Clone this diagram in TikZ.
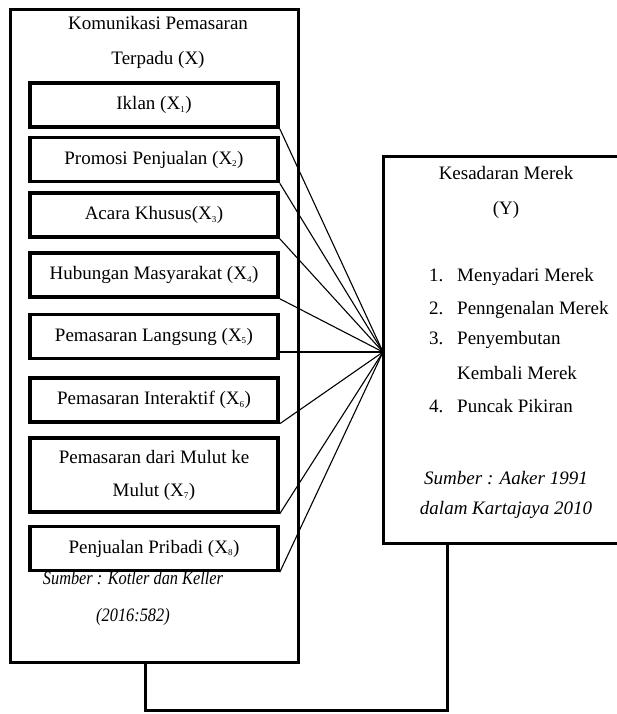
\documentclass[tikz,border=0pt]{standalone}
\usepackage{fontspec}
\setmainfont{Liberation Serif}
\usetikzlibrary{positioning}

\tikzset{
  kotak/.style={draw, line width=3.5pt, minimum width=248pt, minimum height=44pt,
    inner sep=0pt, align=center},
  bingkai/.style={draw, line width=3pt, inner sep=0pt},
  teks/.style={inner sep=0pt, text height=13pt, text depth=4pt},
  garis/.style={line width=1.1pt},
}
\newcommand{\subx}[1]{\textsubscript{\fontsize{9}{9}\selectfont #1}}

\begin{document}
\begin{tikzpicture}[x=1pt, y=-1pt, font=\fontsize{19}{33}\selectfont]
  \useasboundingbox (0,0) rectangle (617,714);

  % Variabel X
  \node[bingkai, minimum width=288pt, minimum height=652pt] (X) at (154,336) {};
  \node[teks] (judulA) at (158,25) {Komunikasi Pemasaran};
  \node[teks] (judulB) at (158,60) {Terpadu (X)};

  % Dimensi X
  \node[kotak] (x1) at (154,105)   {Iklan (X\subx{1})};
  \node[kotak] (x2) at (154,159.5) {Promosi Penjualan (X\subx{2})};
  \node[kotak] (x3) at (154,215)   {Acara Khusus(X\subx{3})};
  \node[kotak] (x4) at (154,275)   {Hubungan Masyarakat (X\subx{4})};
  \node[kotak] (x5) at (154,336.5) {Pemasaran Langsung (X\subx{5})};
  \node[kotak] (x6) at (154,400)   {Pemasaran Interaktif (X\subx{6})};
  \node[kotak, minimum height=74pt] (x7) at (154,475)
    {Pemasaran dari Mulut ke\\Mulut (X\subx{7})};
  \node[kotak] (x8) at (154,548.5) {Penjualan Pribadi (X\subx{8})};

  % Sumber X
  \node[teks] (sumberA) at (133,580)
    {\scalebox{0.86}[1]{\itshape Sumber : Kotler dan Keller}};
  \node[teks] (sumberB) at (133,617)
    {\scalebox{0.86}[1]{\itshape (2016:582)}};

  % Variabel Y
  \node[bingkai, minimum width=240pt, minimum height=386pt] (Y) at (503,350) {};
  \node[teks] (judulY) at (506,175) {Kesadaran Merek};
  \node[teks] (judulYb) at (506,210) {(Y)};
  \node[teks, anchor=west] (y1) at (429,277) {\makebox[28pt][l]{1.}Menyadari Merek};
  \node[teks, anchor=west] (y2) at (429,310) {\makebox[28pt][l]{2.}Penngenalan Merek};
  \node[teks, anchor=west] (y3) at (429,340) {\makebox[28pt][l]{3.}Penyembutan};
  \node[teks, anchor=west] (y3b) at (457,375) {Kembali Merek};
  \node[teks, anchor=west] (y4) at (429,408) {\makebox[28pt][l]{4.}Puncak Pikiran};
  \node[teks] (sumberY) at (506,480) {\itshape Sumber : Aaker 1991};
  \node[teks] (sumberYb) at (506,510) {\itshape dalam Kartajaya 2010};

  % Titik temu
  \coordinate (hub) at (383,352);

  % Garis dimensi
  \foreach \k in {1,2,3,4,6,7,8}
    \draw[garis] (x\k.south east) -- (hub);
  \draw[garis] (hub -| x5.east) -- (hub);

  % Hubungan X dan Y
  \draw[line width=3pt] (X.south -| 145,0) -- (145,710) -- (447,710) -- (Y.south -| 447,0);

\end{tikzpicture}
\end{document}
